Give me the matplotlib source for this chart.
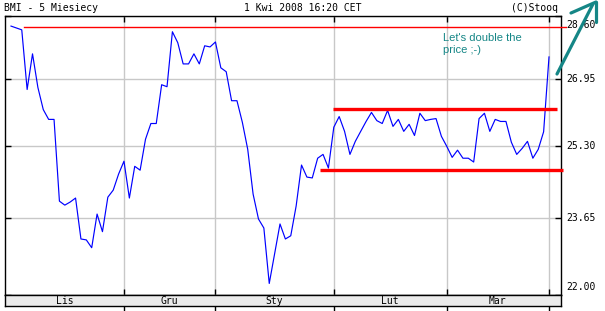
import numpy as np
import matplotlib
matplotlib.use('Agg')
import matplotlib.pyplot as plt
from matplotlib.lines import Line2D
from matplotlib.ticker import NullLocator
import matplotlib.transforms as mtransforms

# ---------------- data ----------------
prices = [28.33, 28.28, 28.23, 26.69, 27.60, 26.74, 26.19, 25.95, 25.95, 24.03,
          23.94, 24.01, 24.10, 23.19, 23.17, 23.00, 23.74, 23.35, 24.12, 24.28,
          24.65, 24.95, 24.10, 24.83, 24.74, 25.47, 25.85, 25.85, 26.81, 26.76,
          28.18, 27.89, 27.34, 27.34, 27.60, 27.34, 27.81, 27.78, 27.91, 27.24,
          27.14, 26.41, 26.41, 25.88, 25.23, 24.19, 23.63, 23.43, 22.24, 22.87,
          23.52, 23.19, 23.26, 23.92, 24.86, 24.58, 24.56, 25.02, 25.11, 24.79,
          25.76, 26.02, 25.66, 25.11, 25.42, 25.66, 25.90, 26.12, 25.92, 25.85,
          26.17, 25.78, 25.95, 25.66, 25.83, 25.56, 26.10, 25.92, 25.95, 25.97,
          25.54, 25.30, 25.04, 25.21, 25.02, 25.02, 24.93, 25.97, 26.10, 25.66,
          25.95, 25.90, 25.90, 25.40, 25.11, 25.25, 25.42, 25.02, 25.23, 25.65,
          27.52]
month_start_idx = [21, 38, 60, 81, 100]
month_labels = ['Lis', 'Gru', 'Sty', 'Lut', 'Mar']
y_ticks = [22.00, 23.65, 25.30, 26.95, 28.60]
y_tick_labels = ['22.00', '23.65', '25.30', '26.95', '28.60']
period_max = 28.31
resistance = 26.20
support = 24.74
max_span = (2.4, 103.2)
res_span = (59.9, 101.5)
sup_span = (57.5, 102.6)
x_left, x_right = -1.115, 102.23

title_left = 'BMI - 5 Miesiecy'
title_mid = '1 Kwi 2008 16:20 CET'
title_right = '(C)Stooq'
note = "Let's double the\nprice ;-)"

# ---------------- figure ----------------
W, H = 605, 311
fig = plt.figure(figsize=(W / 100, H / 100), dpi=100)
fig.patch.set_facecolor('white')


def fx(px):
    return px / W


def fy(py):
    return 1 - py / H


MONO = 'DejaVu Sans Mono'
GRID = '#c8c8c8'
TEAL = '#158686'

ax = fig.add_axes([fx(5), fy(295), fx(561) - fx(5), fy(16) - fy(295)])
x = np.arange(len(prices))
ax.plot(x, prices, color='#0000ff', lw=0.85, zorder=3)
ax.set_yscale('log')
ax.set_ylim(y_ticks[0], y_ticks[-1])
ax.set_xlim(x_left, x_right)
ax.yaxis.set_minor_locator(NullLocator())
ax.xaxis.set_minor_locator(NullLocator())
ax.set_yticks(y_ticks)
ax.set_xticks(month_start_idx)
ax.grid(True, color=GRID, lw=1.0, zorder=0)
ax.set_axisbelow(True)
ax.tick_params(axis='both', which='major', direction='in', length=4, width=1,
               color='black', top=True, bottom=True, left=True, right=True,
               labelbottom=False, labelleft=False, labelright=False, labeltop=False)
for s in ax.spines.values():
    s.set_color('black')
    s.set_linewidth(1.0)

# y labels on the right
ytrans = ax.get_yaxis_transform()
for v, lab in zip(y_ticks, y_tick_labels):
    dy = 0
    if v == max(y_ticks):
        dy = -9
    elif v == min(y_ticks):
        dy = 8
    t = mtransforms.offset_copy(ytrans, fig=fig, x=5, y=dy, units='dots')
    ax.text(1.0, v, lab, transform=t, ha='left', va='center', fontsize=7,
            family=MONO, color='black', clip_on=False)

# annotation lines (max level, resistance, support)
ax.plot(max_span, [period_max] * 2, color='#ff0000', lw=1.0, clip_on=False, zorder=4)
ax.plot(res_span, [resistance] * 2, color='#ff0000', lw=2.4, clip_on=False,
        solid_capstyle='butt', zorder=4)
ax.plot(sup_span, [support] * 2, color='#ff0000', lw=2.4, clip_on=False,
        solid_capstyle='butt', zorder=4)

# bottom month bar
bar = fig.add_axes([fx(5), fy(306), fx(561) - fx(5), fy(295) - fy(306)])
bar.set_facecolor('#ebebeb')
bar.set_xlim(x_left, x_right)
bar.set_ylim(0, 1)
bar.set_yticks([])
bar.set_xticks(month_start_idx)
bar.xaxis.set_minor_locator(NullLocator())
bar.tick_params(axis='x', direction='out', length=6, width=1, color='black',
                labelbottom=False)
for s in bar.spines.values():
    s.set_color('black')
    s.set_linewidth(1.0)
bounds = [x_left] + month_start_idx
for i, lab in enumerate(month_labels):
    c = (bounds[i] + bounds[i + 1]) / 2
    bar.text(c, 0.45, lab, ha='center', va='center', fontsize=7, family=MONO,
             color='black')

# title row
fig.text(fx(4), fy(8), title_left, ha='left', va='center', fontsize=7, family=MONO)
fig.text(fx(303), fy(8), title_mid, ha='center', va='center', fontsize=7, family=MONO)
fig.text(fx(558), fy(8), title_right, ha='right', va='center', fontsize=7, family=MONO)

# teal note and hand-drawn arrow
fig.text(fx(443), fy(33), note, ha='left', va='top', fontsize=8,
         family='Liberation Sans', color=TEAL, linespacing=1.25)
arrow_segments = [((557, 74), (593, 4)), ((571, 13), (596, 2)), ((596, 2), (596, 22))]
for (x0, y0), (x1, y1) in arrow_segments:
    fig.add_artist(Line2D([fx(x0), fx(x1)], [fy(y0), fy(y1)], transform=fig.transFigure,
                          color=TEAL, lw=2.3, solid_capstyle='round'))

fig.savefig('out.png', dpi=100)
